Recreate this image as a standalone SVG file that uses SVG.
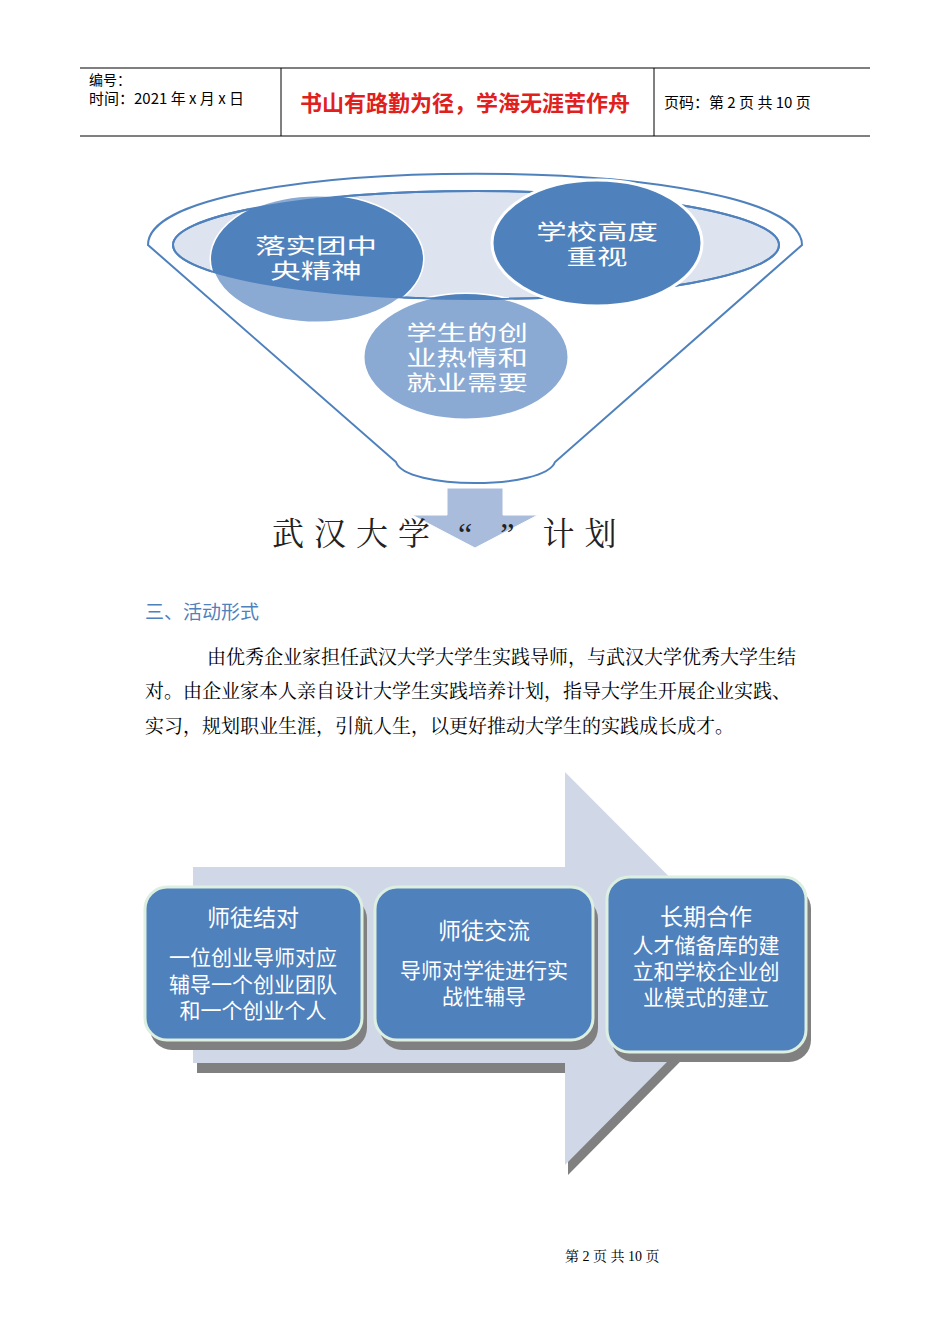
<svg xmlns="http://www.w3.org/2000/svg" width="950" height="1344" viewBox="0 0 950 1344">
<style>
.s{font-family:"Noto Sans CJK SC",sans-serif}
.r{font-family:"Liberation Serif","Noto Serif CJK SC","Noto Sans CJK SC",serif}
.w{fill:#fff;text-anchor:middle}
.c{font-size:21px}
.bx{fill:#4f81bd;stroke:#dcefe0;stroke-width:3}
.sh{fill:#808080}
</style>
<rect width="950" height="1344" fill="#fff"/>
<g id="header" stroke="#000" stroke-width="1">
<line x1="80" y1="68" x2="870" y2="68"/><line x1="80" y1="136" x2="870" y2="136"/>
<line x1="281" y1="68" x2="281" y2="136"/><line x1="654" y1="68" x2="654" y2="136"/>
</g>
<text class="s" x="89" y="85" font-size="14">编号：</text>
<text class="s" x="89" y="104" font-size="15">时间：2021 年 x 月 x 日</text>
<text class="s" x="300" y="111" font-size="22" fill="#e0201c" font-weight="bold">书山有路勤为径，学海无涯苦作舟</text>
<text class="s" x="664" y="108" font-size="15">页码：第 2 页  共 10 页</text>
<g id="funnel">
<path d="M148,245 C148,150 802,150 802,245 L555,462 C545,490 405,490 396,462 Z" fill="#fff" stroke="#4f81bd" stroke-width="2"/>
<ellipse cx="476" cy="245" rx="303" ry="54" fill="#dde4f0" stroke="#4f81bd" stroke-width="2"/>
<ellipse cx="466" cy="357" rx="103" ry="63" fill="#8aaad4" stroke="#fff" stroke-width="3"/>
<ellipse cx="317" cy="259" rx="106" ry="64" fill="#8aaad4" stroke="#fff" stroke-width="3"/>
<clipPath id="ie"><ellipse cx="476" cy="245" rx="303" ry="54"/></clipPath>
<g clip-path="url(#ie)">
<ellipse cx="317" cy="259" rx="106" ry="64" fill="#4f81bd"/>
<ellipse cx="466" cy="357" rx="103" ry="63" fill="#4f81bd"/>
</g>
<ellipse cx="476" cy="245" rx="303" ry="54" fill="none" stroke="#4f81bd" stroke-width="2"/>
<ellipse cx="597" cy="243" rx="105" ry="63" fill="#4f81bd" stroke="#fff" stroke-width="3"/>
<text class="s w c" transform="translate(316,0) scale(1.45,1)"><tspan x="0" y="253">落实团中</tspan><tspan x="0" y="278">央精神</tspan></text>
<text class="s w c" transform="translate(597,0) scale(1.45,1)"><tspan x="0" y="239">学校高度</tspan><tspan x="0" y="264">重视</tspan></text>
<text class="s w c" transform="translate(467,0) scale(1.45,1)"><tspan x="0" y="340">学生的创</tspan><tspan x="0" y="365">业热情和</tspan><tspan x="0" y="390">就业需要</tspan></text>
<path d="M447,488 H503 V515 H538 L475,548 L412,515 H447 Z" fill="#a9bcdc" stroke="#fff"/>
<text class="r" x="272" y="545" font-size="32" letter-spacing="10" fill="#222">武汉大学 “ ” 计划</text>
</g>
<text class="s" x="145" y="619" font-size="19" fill="#4f81bd">三、活动形式</text>
<g class="r" font-size="19" fill="#000">
<text x="207" y="664">由优秀企业家担任武汉大学大学生实践导师，与武汉大学优秀大学生结</text>
<text x="145" y="698">对。由企业家本人亲自设计大学生实践培养计划，指导大学生开展企业实践、</text>
<text x="145" y="733">实习，规划职业生涯，引航人生，以更好推动大学生的实践成长成才。</text>
</g>
<g id="arrow">
<path d="M197,877 H568 V782 L763,978 L568,1175 V1073 H197Z" class="sh"/>
<path d="M193,867 H565 V772 L760,968 L565,1165 V1063 H193Z" fill="#d0d8e8"/>
</g>
<g id="box1"><rect x="150" y="897" width="217" height="153" rx="22" class="sh"/><rect x="145" y="887" width="217" height="153" rx="22" class="bx"/>
<text class="s w" font-size="23" x="253" y="926">师徒结对</text>
<text class="s w" font-size="21"><tspan x="253" y="965">一位创业导师对应</tspan><tspan x="253" y="992">辅导一个创业团队</tspan><tspan x="253" y="1018">和一个创业个人</tspan></text></g>
<g id="box2"><rect x="380" y="897" width="218" height="153" rx="22" class="sh"/><rect x="375" y="887" width="218" height="153" rx="22" class="bx"/>
<text class="s w" font-size="23" x="484" y="939">师徒交流</text>
<text class="s w" font-size="21"><tspan x="484" y="978">导师对学徒进行实</tspan><tspan x="484" y="1004">战性辅导</tspan></text></g>
<g id="box3"><rect x="612" y="887" width="199" height="175" rx="22" class="sh"/><rect x="607" y="877" width="199" height="175" rx="22" class="bx"/>
<text class="s w" font-size="23" x="706" y="925">长期合作</text>
<text class="s w" font-size="21"><tspan x="706" y="953">人才储备库的建</tspan><tspan x="706" y="979">立和学校企业创</tspan><tspan x="706" y="1005">业模式的建立</tspan></text></g>
<text class="r" x="565" y="1261" font-size="14">第 2 页 共 10 页</text>
</svg>
